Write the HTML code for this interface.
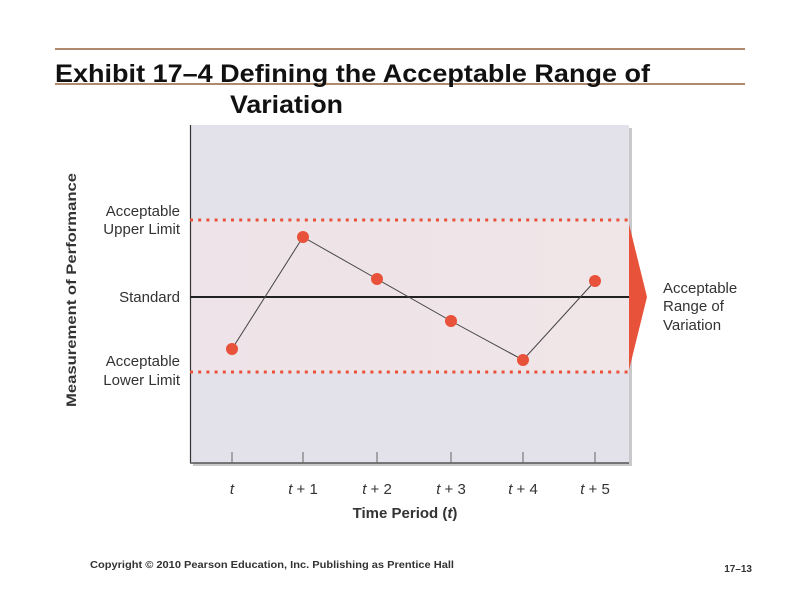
<!DOCTYPE html>
<html><head><style>
body{margin:0;background:#fff;}
svg{display:block;}
</style></head><body>
<svg width="800" height="600" xmlns="http://www.w3.org/2000/svg" font-family="Liberation Sans, sans-serif">
<defs>
<linearGradient id="band" x1="0" y1="0" x2="1" y2="0">
<stop offset="0" stop-color="#ede3e8"/><stop offset="1" stop-color="#f0e6e8"/>
</linearGradient>
</defs>
<line x1="55" y1="49" x2="745" y2="49" stroke="#b08a6e" stroke-width="2"/>
<line x1="55" y1="84" x2="745" y2="84" stroke="#b08a6e" stroke-width="2"/>
<text x="55" y="82" font-size="25" font-weight="bold" fill="#111" textLength="595" lengthAdjust="spacingAndGlyphs">Exhibit 17–4  Defining the Acceptable Range of</text>
<text x="230" y="113" font-size="25" font-weight="bold" fill="#111" textLength="113" lengthAdjust="spacingAndGlyphs">Variation</text>
<rect x="193" y="128" width="439" height="338" fill="#c9c9cc"/>
<rect x="190" y="125" width="439" height="338" fill="#e3e2ea"/>
<rect x="190" y="220" width="439" height="152" fill="url(#band)"/>
<line x1="190.5" y1="125" x2="190.5" y2="463" stroke="#333" stroke-width="1.2"/>
<line x1="190" y1="463" x2="629" y2="463" stroke="#555" stroke-width="1.5"/>
<line x1="190" y1="220" x2="629" y2="220" stroke="#e8523a" stroke-width="3" stroke-dasharray="3,5.2"/>
<line x1="190" y1="372" x2="629" y2="372" stroke="#e8523a" stroke-width="3" stroke-dasharray="3,5.2"/>
<line x1="190" y1="297" x2="629" y2="297" stroke="#222" stroke-width="2"/>
<g stroke="#666" stroke-width="1">
<line x1="232" y1="452" x2="232" y2="463"/><line x1="303" y1="452" x2="303" y2="463"/>
<line x1="377" y1="452" x2="377" y2="463"/><line x1="451" y1="452" x2="451" y2="463"/>
<line x1="523" y1="452" x2="523" y2="463"/><line x1="595" y1="452" x2="595" y2="463"/>
</g>
<polyline points="232,349 303,237 377,279 451,321 523,360 595,281" fill="none" stroke="#444" stroke-width="1"/>
<g fill="#e8523a">
<circle cx="232" cy="349" r="6"/><circle cx="303" cy="237" r="6"/><circle cx="377" cy="279" r="6"/>
<circle cx="451" cy="321" r="6"/><circle cx="523" cy="360" r="6"/><circle cx="595" cy="281" r="6"/>
<polygon points="629,224 647,297 629,370"/>
</g>
<g font-size="15" fill="#333" text-anchor="end">
<text x="180" y="216">Acceptable</text><text x="180" y="234">Upper Limit</text>
<text x="180" y="302">Standard</text>
<text x="180" y="366">Acceptable</text><text x="180" y="385">Lower Limit</text>
</g>
<text transform="translate(76,290) rotate(-90)" font-size="14" font-weight="bold" fill="#333" text-anchor="middle" textLength="234" lengthAdjust="spacingAndGlyphs">Measurement of Performance</text>
<g font-size="15" fill="#333">
<text x="663" y="293">Acceptable</text><text x="663" y="311">Range of</text><text x="663" y="330">Variation</text>
</g>
<g font-size="15" fill="#333" text-anchor="middle">
<text x="232" y="494" font-style="italic">t</text>
<text x="303" y="494"><tspan font-style="italic">t</tspan> + 1</text>
<text x="377" y="494"><tspan font-style="italic">t</tspan> + 2</text>
<text x="451" y="494"><tspan font-style="italic">t</tspan> + 3</text>
<text x="523" y="494"><tspan font-style="italic">t</tspan> + 4</text>
<text x="595" y="494"><tspan font-style="italic">t</tspan> + 5</text>
<text x="405" y="518" font-weight="bold">Time Period (<tspan font-style="italic">t</tspan>)</text>
</g>
<text x="90" y="568" font-size="10" font-weight="bold" fill="#333" textLength="364" lengthAdjust="spacingAndGlyphs">Copyright © 2010 Pearson Education, Inc. Publishing as Prentice Hall</text>
<text x="752" y="572" font-size="10" font-weight="bold" fill="#333" text-anchor="end">17–13</text>
</svg>
</body></html>
